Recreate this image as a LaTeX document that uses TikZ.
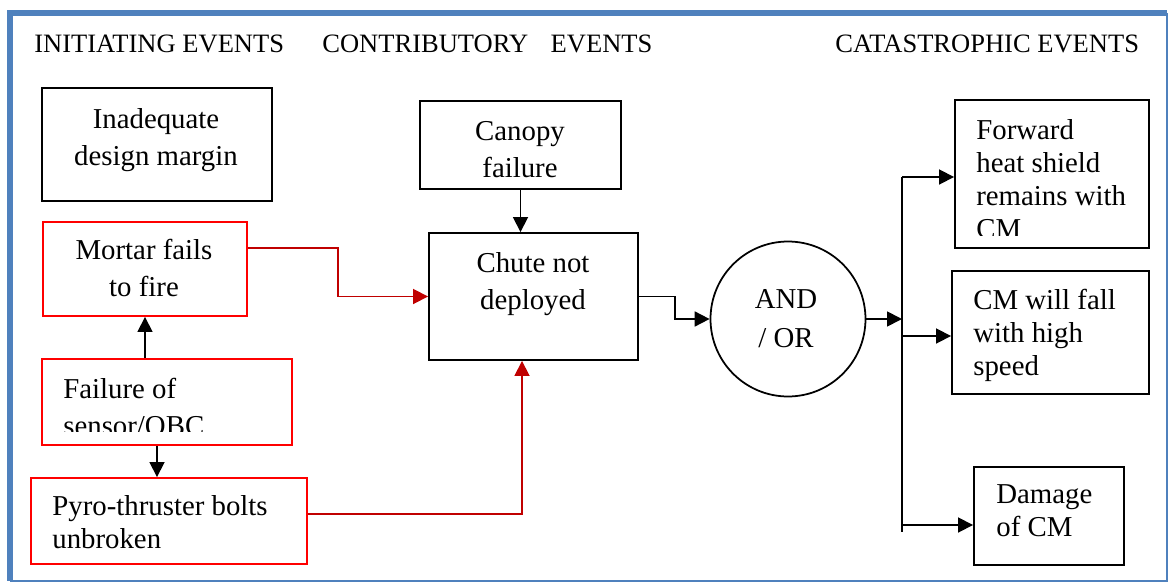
\documentclass[tikz,border=0pt]{standalone}
\usepackage{fontspec}
\setmainfont{Liberation Serif}
\usepackage{tikz}
\usepackage{xcolor}
\usetikzlibrary{positioning, arrows.meta, shapes}

\definecolor{frameblue}{HTML}{4F81BD}
\definecolor{linkred}{HTML}{C00000}

\begin{document}
\begin{tikzpicture}[x=0.02cm, y=-0.02cm,
    evbox/.style={rectangle, draw, line width=1.1pt, inner sep=0pt},
    redbox/.style={evbox, draw=red},
    evtext/.style={inner sep=0pt, font=\fontsize{16.4}{21}\selectfont},
    tighttext/.style={evtext, font=\fontsize{16.4}{18.8}\selectfont},
    heading/.style={inner sep=0pt, anchor=base west, font=\fontsize{15.1}{17}\selectfont},
    arr/.style={line width=1pt, -{Triangle[length=8.5pt, width=8.5pt]}},
    redarr/.style={arr, draw=linkred, -{Triangle[length=8.5pt, width=8.5pt, fill=linkred]}}]
                \useasboundingbox (0,0) rectangle (1171,585);
                \draw[frameblue, line width=3.6pt] (1167,13) -- (10,13) -- (10,581);
                \draw[frameblue, line width=1.5pt] (10,581) -- (1167,581) -- (1167,13);

                \node[heading] (hinit) at (34,52) {INITIATING EVENTS};
                \node[heading] (hcontr) at (322,52) {CONTRIBUTORY\hspace{0.85em}EVENTS};
                \node[heading] (hcat) at (835,52) {CATASTROPHIC EVENTS};

                \node[evbox, minimum width=4.6cm, minimum height=2.26cm] (inadequate) at (157,144.5) {};
                \node[redbox, minimum width=4.08cm, minimum height=1.88cm] (mortar) at (145,269) {};
                \node[redbox, minimum width=5cm, minimum height=1.72cm] (failure) at (167,402) {};
                \node[redbox, minimum width=5.52cm, minimum height=1.72cm] (pyro) at (169,521) {};
                \node[evbox, minimum width=4.02cm, minimum height=1.76cm] (canopy) at (520.5,145) {};
                \node[evbox, minimum width=4.18cm, minimum height=2.54cm] (chute) at (533.5,296.5) {};
                \node[circle, draw, line width=1pt, minimum size=3.1cm, inner sep=0pt] (andor) at (788,319) {};
                \node[evbox, minimum width=3.88cm, minimum height=2.96cm] (forward) at (1052,174) {};
                \node[evbox, minimum width=3.94cm, minimum height=2.46cm] (fall) at (1050.5,332.5) {};
                \node[evbox, minimum width=3cm, minimum height=1.96cm] (damage) at (1049,516) {};

                \node[evtext, anchor=north, align=center] (inadequatet) at (156,108) {Inadequate\\design margin};
                \node[evtext, anchor=north, align=center] (mortart) at (144,239) {Mortar fails\\to fire};
                \begin{scope}
                    \clip (failure.north west) rectangle ([yshift=0.28cm]failure.south east);
                    \node[evtext, anchor=north west, align=left] (failuret) at (63,378) {Failure of\\sensor/OBC};
                \end{scope}
                \node[tighttext, anchor=north west, align=left] (pyrot) at (52,495) {Pyro-thruster bolts\\unbroken};
                \node[evtext, anchor=north, align=center] (canopyt) at (520,121) {Canopy\\failure};
                \node[evtext, anchor=north, align=center] (chutet) at (533,252) {Chute not\\deployed};
                \node[evtext, anchor=north, align=center, font=\fontsize{16.4}{22.1}\selectfont] (andort) at (786,289) {AND\\/ OR};
                \begin{scope}
                    \clip (forward.north west) rectangle ([yshift=0.26cm]forward.south east);
                    \node[tighttext, anchor=north west, align=left] (forwardt) at (976,119) {Forward\\heat shield\\remains with\\CM};
                \end{scope}
                \node[tighttext, anchor=north west, align=left] (fallt) at (973,289) {CM will fall\\with high\\speed};
                \node[tighttext, anchor=north west, align=left] (damaget) at (996,484) {Damage\\of CM};

                \coordinate (busin) at (902,319);
                \coordinate (bustop) at (902,177);
                \coordinate (busmid) at (902,336);
                \coordinate (buslow) at (902,525);
                \coordinate (busbot) at (902,532);

                \draw[arr] (failure.north -| mortar.south) -- (mortar.south);
                \draw[arr] ([xshift=-0.2cm]failure.south) -- ([xshift=-0.2cm]failure.south |- pyro.north);
                \draw[redarr] ([yshift=0.42cm]mortar.east) -| ([xshift=-1.8cm]chute.west) -- (chute.west);
                \draw[redarr] ([yshift=0.14cm]pyro.east) -| ([xshift=-0.23cm]chute.south);
                \draw[arr] (canopy.south) -- (canopy.south |- chute.north);
                \draw[arr] (chute.east) -| ([xshift=-0.7cm]andor.west) -- (andor.west);
                \draw[arr] (andor.east) -- (busin);
                \draw[line width=1pt] (bustop) -- (busbot);
                \draw[arr] (bustop) -- (bustop -| forward.west);
                \draw[arr] (busmid) -- (busmid -| fall.west);
                \draw[arr] (buslow) -- (buslow -| damage.west);
            \end{tikzpicture}
\end{document}
